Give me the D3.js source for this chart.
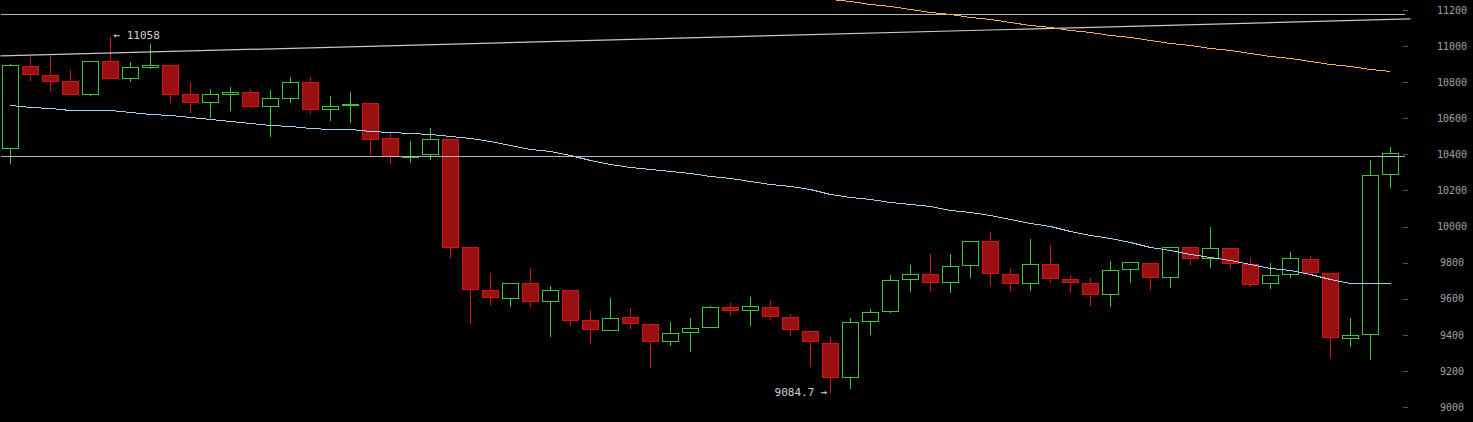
<!DOCTYPE html>
<html>
<head>
<meta charset="utf-8">
<script src="https://cdn.jsdelivr.net/npm/d3@7/dist/d3.min.js"></script>
<style>
  html, body { margin: 0; padding: 0; background: #000; overflow: hidden; }
  svg { display: block; }
</style>
</head>
<body>
<svg id="chart" width="1473" height="422"></svg>
<script>
// ---- data ----
const openV  = [10433,10888,10838,10804,10736,10915,10824,10884,10893,10732,10688,10736,10743,10669,10714,10799,10653,10675,10683,10489,10387,10400,10483,9885,9647,9602,9685,9586,9647,9480,9425,9497,9458,9364,9414,9442,9552,9536,9552,9497,9419,9353,9165,9475,9530,9707,9735,9691,9785,9918,9735,9685,9791,9707,9685,9624,9763,9796,9719,9885,9824,9879,9791,9685,9735,9818,9741,9381,9403,10289];
const highV  = [10904,10945,10950,10873,10918,11058,10917,11015,10893,10806,10766,10778,10767,10762,10834,10834,10728,10751,10683,10525,10479,10551,10483,9892,9746,9693,9776,9676,9654,9543,9609,9554,9458,9476,9499,9565,9582,9615,9598,9519,9419,9393,9497,9547,9735,9791,9852,9852,9924,9975,9776,9936,9903,9735,9719,9813,9802,9802,9885,9892,10001,9879,9831,9802,9864,9840,9746,9497,10372,10446];
const lowV   = [10353,10812,10752,10733,10730,10822,10808,10880,10691,10636,10608,10645,10664,10501,10690,10630,10590,10579,10402,10353,10359,10374,9833,9464,9572,9561,9561,9395,9456,9356,9425,9439,9223,9345,9312,9442,9511,9456,9489,9401,9229,9084.7,9107,9406,9525,9641,9641,9635,9722,9678,9644,9650,9691,9639,9567,9561,9691,9652,9663,9791,9777,9772,9672,9661,9722,9735,9275,9336,9264,10220];
const closeV = [10893,10847,10808,10736,10915,10824,10882,10895,10736,10688,10732,10743,10669,10710,10799,10653,10666,10678,10486,10389,10390,10483,9888,9652,9608,9685,9586,9647,9480,9430,9491,9464,9364,9408,9436,9552,9536,9558,9502,9430,9364,9165,9469,9525,9702,9735,9691,9780,9918,9741,9685,9791,9713,9691,9624,9757,9802,9719,9885,9824,9879,9796,9680,9730,9824,9746,9386,9397,10284,10406];

// short moving average (light blue)
const maShort = [10671,10660,10654,10643,10643,10643,10632,10626,10615,10604,10593,10582,10571,10560,10555,10544,10539,10539,10530,10525,10519,10512,10501,10488,10471,10452,10432,10416,10396,10368,10346,10332,10319,10305,10294,10280,10267,10250,10237,10226,10208,10180,10163,10150,10137,10125,10111,10093,10079,10064,10043,10021,10000,9975,9953,9935,9913,9889,9868,9849,9831,9813,9791,9772,9757,9735,9711,9685,9685,9685];

// long moving average (orange), starts at candle 40
const maLongStart = 40;
const maLong = [11277,11262,11248,11234,11219,11205,11190,11176,11162,11148,11134,11119,11105,11091,11077,11062,11048,11033,11019,11005,10990,10976,10961,10947,10932,10918,10902,10887,10873,10860];

// horizontal levels and a trend line
const levels = [11176, 10389];
const trendLine = [{i: -0.5, v: 10945}, {i: 70, v: 11150}];

const yTicks = [9000,9200,9400,9600,9800,10000,10200,10400,10600,10800,11000,11200];

// ---- drawing ----
const svg = d3.select("#chart");
const W = 1473, H = 422;
svg.append("rect").attr("width", W).attr("height", H).attr("fill", "#000");

const n = openV.length;
const x = d3.scaleLinear().domain([0, n - 1]).range([10.5, 1390.5]);
const y = d3.scaleLinear().domain([9000, 11200]).range([407, 9.9]);

const RED_FILL = "#9a1010", RED_STROKE = "#cf1717", GREEN = "#3fc43f";

const candles = d3.range(n).map(i => ({
  i, o: openV[i], h: highV[i], l: lowV[i], c: closeV[i], up: closeV[i] >= openV[i]
}));

const g = svg.append("g").attr("shape-rendering", "crispEdges");

// wicks
g.selectAll("line.wick").data(candles).join("line")
  .attr("class", "wick")
  .attr("x1", d => x(d.i)).attr("x2", d => x(d.i))
  .attr("y1", d => Math.round(y(d.h)) + 0.5)
  .attr("y2", d => Math.round(y(d.l)) + 0.5)
  .attr("stroke", d => d.up ? GREEN : RED_STROKE)
  .attr("stroke-width", 1);

// bodies
const halfW = 8;
g.selectAll("path.body").data(candles).join("path")
  .attr("class", "body")
  .attr("d", d => {
    const x0 = x(d.i) - halfW, x1 = x(d.i) + halfW;
    const y0 = Math.round(y(Math.max(d.o, d.c))) + 0.5;
    const y1 = Math.round(y(Math.min(d.o, d.c))) + 0.5;
    return `M${x0},${y0}H${x1}V${y1}H${x0}Z`;
  })
  .attr("fill", d => d.up ? "#000" : RED_FILL)
  .attr("stroke", d => d.up ? GREEN : RED_STROKE)
  .attr("stroke-width", 1);

// horizontal levels
svg.selectAll("line.level").data(levels).join("line")
  .attr("class", "level")
  .attr("x1", x(-0.5)).attr("x2", x(69.7))
  .attr("y1", d => Math.round(y(d)) + 0.5).attr("y2", d => Math.round(y(d)) + 0.5)
  .attr("stroke", "#b4b4b4").attr("stroke-width", 1)
  .attr("shape-rendering", "crispEdges");

// trend line
svg.append("line")
  .attr("x1", x(trendLine[0].i)).attr("y1", y(trendLine[0].v))
  .attr("x2", x(trendLine[1].i)).attr("y2", y(trendLine[1].v))
  .attr("stroke", "#c8c8c8").attr("stroke-width", 1.2);

// short MA
const lineShort = d3.line().x((d, i) => x(i)).y(d => Math.round(y(d)) + 0.5);
svg.append("path")
  .datum(maShort)
  .attr("d", lineShort)
  .attr("fill", "none")
  .attr("stroke", "#a6cfea")
  .attr("stroke-width", 1)
  .attr("shape-rendering", "crispEdges");

// long MA
const lineLong = d3.line().x((d, i) => x(i + maLongStart)).y(d => Math.round(y(d)) + 0.5);
svg.append("path")
  .datum(maLong)
  .attr("d", lineLong)
  .attr("fill", "none")
  .attr("stroke", "#f2ad5e")
  .attr("stroke-width", 1)
  .attr("shape-rendering", "crispEdges");

// y axis on the right
const axis = d3.axisRight(y).tickValues(yTicks).tickSize(5).tickFormat(d3.format("d"));
const ag = svg.append("g").attr("transform", "translate(1403,0)").call(axis);
ag.select(".domain").remove();
ag.selectAll(".tick line").attr("stroke", "#555").attr("shape-rendering", "crispEdges");
ag.selectAll(".tick text")
  .attr("x", 49).attr("text-anchor", "middle")
  .attr("fill", "#a0a0a0")
  .style("font-family", "'DejaVu Sans Mono', monospace")
  .style("font-size", "10px");

// max / min annotations
const iMax = d3.maxIndex(highV), iMin = d3.minIndex(lowV);
svg.append("text")
  .attr("x", x(iMax) + 3).attr("y", y(highV[iMax])).attr("dy", "0.35em")
  .attr("fill", "#cfcfcf")
  .style("font-family", "'DejaVu Sans Mono', monospace").style("font-size", "11px")
  .text("← " + highV[iMax]);
svg.append("text")
  .attr("x", x(iMin) - 3).attr("y", y(lowV[iMin])).attr("dy", "0.35em")
  .attr("text-anchor", "end")
  .attr("fill", "#cfcfcf")
  .style("font-family", "'DejaVu Sans Mono', monospace").style("font-size", "11px")
  .text(lowV[iMin] + " →");
</script>
</body>
</html>
